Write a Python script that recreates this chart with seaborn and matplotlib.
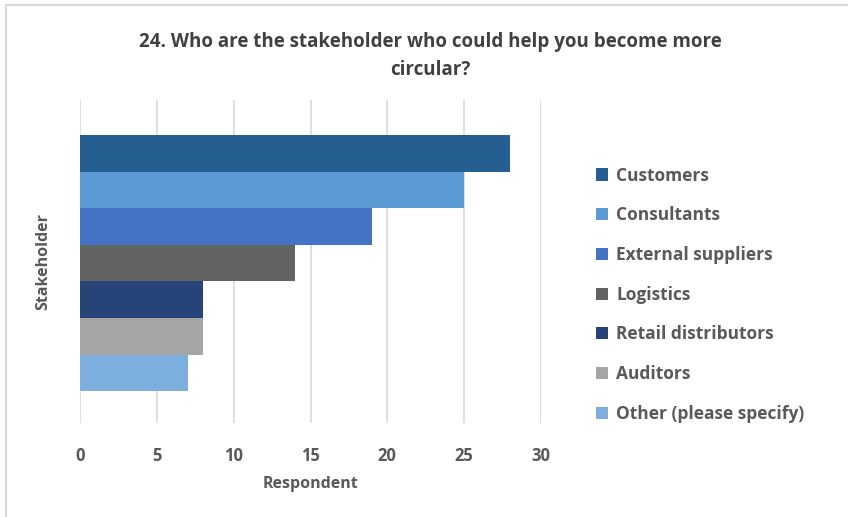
import matplotlib
matplotlib.use("Agg")
import matplotlib.pyplot as plt
import seaborn as sns
import pandas as pd
from matplotlib.lines import Line2D
from matplotlib.patches import Patch

categories = ["Customers", "Consultants", "External suppliers", "Logistics",
              "Retail distributors", "Auditors", "Other (please specify)"]
values = [28, 25, 19, 14, 8, 8, 7]
colors = ["#255e91", "#5b9bd5", "#4472c4", "#636363", "#264478", "#a5a5a5", "#7cafdd"]
x_ticks = [0, 5, 10, 15, 20, 25, 30]

sns.set_theme(style="white")
plt.rcParams['font.family'] = ['Open Sans', 'DejaVu Sans']

df = pd.DataFrame({"Stakeholder": categories, "Respondent": values})

fig = plt.figure(figsize=(8.48, 5.17), dpi=100)
ax = fig.add_axes([80/848, 1-423/517, (541-80)/848, (423-100)/517])

sns.barplot(data=df, y="Stakeholder", x="Respondent", hue="Stakeholder",
            palette=colors, width=1.0, dodge=False, legend=False, ax=ax,
            saturation=1.0, orient="h", linewidth=0, edgecolor="none")

ax.set_xlim(0, 30)
ax.set_ylim(7.37, -1.46)
ax.set_xticks(x_ticks)
ax.set_xticklabels([str(t) for t in x_ticks], fontsize=12, fontweight="bold", color="#595959")
ax.set_yticks([])
ax.tick_params(axis="x", length=0, pad=17)
ax.grid(axis="x", color="#d9d9d9", linewidth=1.2)
ax.set_axisbelow(True)
for s in ax.spines.values():
    s.set_visible(False)

ax.set_xlabel("Respondent", fontsize=11.5, fontweight="bold", color="#595959", labelpad=8)
ax.set_ylabel("Stakeholder", fontsize=11.5, fontweight="bold", color="#595959", labelpad=21)

fig.text(430/848, 1-56/517, "24. Who are the stakeholder who could help you become more\ncircular?",
         ha="center", va="center", fontsize=13.5, fontweight="bold", color="#404040",
         linespacing=1.55)

handles = [Patch(facecolor=c, edgecolor="none") for c in colors]
leg = fig.legend(handles, categories, loc="upper left",
                 bbox_to_anchor=(580/848, 1-151/517), frameon=False,
                 prop={"size": 12.5, "weight": "bold"}, labelcolor="#595959",
                 handlelength=0.7, handleheight=0.7, handletextpad=0.5,
                 labelspacing=1.25)

fig.add_artist(Line2D([6/848, 6/848], [0, 1-5/517], transform=fig.transFigure,
                      color="#d9d9d9", linewidth=1.5))
fig.add_artist(Line2D([6/848, 1], [1-5/517, 1-5/517], transform=fig.transFigure,
                      color="#d9d9d9", linewidth=1.5))

fig.savefig("out.png", dpi=100, facecolor="white")
